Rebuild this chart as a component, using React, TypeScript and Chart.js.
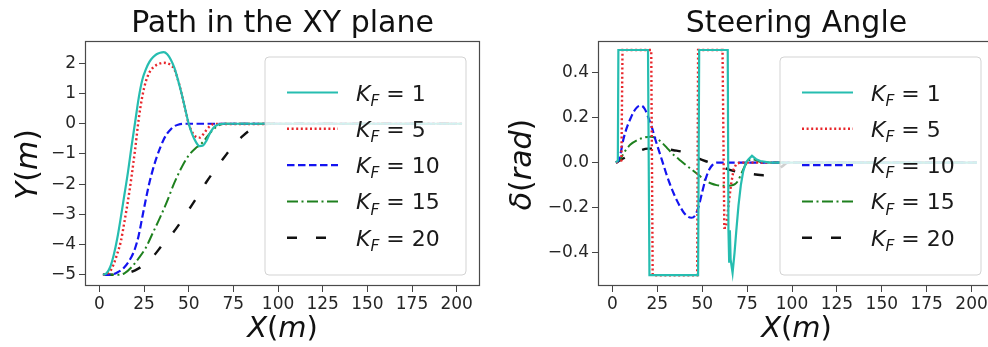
import React, { useEffect, useRef } from "react";
import { Chart, registerables } from "chart.js";
Chart.register(...registerables);

const FONT = '"DejaVu Sans", "Liberation Sans", sans-serif';

// ---------- ticks & labels ----------
const xTicks = [0, 25, 50, 75, 100, 125, 150, 175, 200];
const pathYTicks = [-5, -4, -3, -2, -1, 0, 1, 2];
const steerYTicks = [-0.4, -0.2, 0, 0.2, 0.4];
const kfValues = ["1", "5", "10", "15", "20"];
const titles = ["Path in the XY plane", "Steering Angle"];

// ---------- Path in the XY plane ----------
const pathX_K1 = [2, 4, 6, 8, 10, 12, 14, 16, 18, 20, 22, 24, 26, 28, 30, 32, 34, 36, 38, 40, 42, 44, 46, 48, 50, 52, 54, 56, 58, 60, 62, 64, 66, 68, 70, 203];
const pathY_K1 = [-5, -4.95, -4.75, -4.35, -3.8, -3.1, -2.35, -1.6, -0.75, 0.05, 0.85, 1.45, 1.8, 2.05, 2.2, 2.3, 2.35, 2.37, 2.3, 2.12, 1.85, 1.45, 1.0, 0.5, 0.0, -0.35, -0.6, -0.74, -0.72, -0.55, -0.3, -0.12, -0.04, -0.01, 0, 0];

const pathX_K5 = [2, 4, 6, 8, 10, 12, 14, 16, 18, 20, 22, 24, 26, 28, 30, 32, 34, 36, 38, 40, 42, 44, 46, 48, 50, 52, 54, 56, 58, 60, 62, 64, 203];
const pathY_K5 = [-5, -4.98, -4.88, -4.65, -4.3, -3.9, -3.25, -2.55, -1.75, -0.85, 0.15, 0.9, 1.4, 1.7, 1.86, 1.95, 2.0, 2.02, 2.0, 1.94, 1.8, 1.45, 1.0, 0.5, 0.0, -0.28, -0.43, -0.46, -0.36, -0.2, -0.07, -0.01, 0];

const pathX_K10 = [2, 6, 10, 14, 18, 20, 22, 24, 26, 28, 30, 32, 34, 36, 38, 40, 42, 44, 47, 203];
const pathY_K10 = [-5, -5, -4.92, -4.75, -4.4, -4.12, -3.7, -3.1, -2.5, -1.95, -1.5, -1.12, -0.8, -0.52, -0.32, -0.18, -0.08, -0.03, 0, 0];

const pathX_K15 = [2, 10, 14, 18, 22, 26, 30, 34, 38, 42, 46, 50, 54, 56, 58, 62, 66, 70, 203];
const pathY_K15 = [-5, -5, -4.95, -4.75, -4.45, -4.1, -3.6, -3.1, -2.55, -1.95, -1.45, -1.05, -0.8, -0.72, -0.6, -0.3, -0.08, 0, 0];

const pathX_K20 = [2, 10, 15, 20, 25, 30, 35, 40, 45, 50, 55, 60, 65, 70, 75, 80, 85, 90, 95, 203];
const pathY_K20 = [-5, -5, -4.95, -4.85, -4.67, -4.4, -4.03, -3.7, -3.3, -2.85, -2.4, -1.92, -1.5, -1.1, -0.72, -0.42, -0.18, -0.04, 0, 0];

// ---------- Steering angle ----------
const steerX_K1 = [2, 3, 3.3, 19.8, 20.6, 47.7, 48.3, 64.2, 64.6, 65.0, 65.4, 65.8, 66.9, 68, 69, 70.2, 71.5, 72.8, 74.3, 75.8, 77.7, 80, 82.3, 87.8, 203];
const steerY_K1 = [0, 0.01, 0.5, 0.5, -0.5, -0.5, 0.5, 0.5, -0.3, -0.44, -0.3, -0.43, -0.49, -0.4, -0.3, -0.19, -0.1, -0.04, 0, 0.015, 0.03, 0.015, 0.007, 0, 0];

const steerX_K5 = [2, 5, 5.6, 21.6, 22.4, 47.2, 47.7, 61.3, 62.3, 63.3, 64.5, 66, 67.5, 69, 71, 203];
const steerY_K5 = [0, 0.01, 0.5, 0.5, -0.5, -0.5, 0.5, 0.5, -0.29, -0.29, -0.2, -0.1, -0.03, -0.005, 0, 0];

const steerX_K10 = [2, 3, 4.5, 6, 8, 10, 12, 14, 16, 18, 20, 22, 24, 26, 28, 30, 32, 34, 36, 38, 40, 42, 44, 46, 48, 50, 52, 54, 56, 58, 203];
const steerY_K10 = [0, 0.005, 0.04, 0.1, 0.155, 0.195, 0.228, 0.248, 0.253, 0.238, 0.2, 0.155, 0.1, 0.05, 0.0, -0.05, -0.095, -0.135, -0.17, -0.2, -0.225, -0.24, -0.245, -0.235, -0.195, -0.13, -0.07, -0.03, -0.008, 0, 0];

const steerX_K15 = [2, 4, 6.5, 10, 14, 17, 21, 24, 28, 31, 34, 37, 40, 44, 48, 52, 55, 58, 62, 66, 68, 70, 72, 74, 76, 78, 80, 84, 203];
const steerY_K15 = [0, 0.01, 0.045, 0.08, 0.1, 0.11, 0.115, 0.11, 0.085, 0.06, 0.035, 0.015, -0.005, -0.03, -0.055, -0.08, -0.093, -0.1, -0.103, -0.102, -0.097, -0.08, -0.045, -0.012, 0.01, 0.015, 0.01, 0, 0];

const steerX_K20 = [2, 6, 12, 19.8, 28, 34, 40.4, 45, 52, 60, 64.4, 72, 78, 84, 88, 94, 98, 203];
const steerY_K20 = [0, 0.018, 0.04, 0.062, 0.062, 0.055, 0.045, 0.028, 0.006, -0.015, -0.03, -0.045, -0.051, -0.056, -0.05, -0.02, 0, 0];

// ---------- styles ----------
const STYLES = [
  { color: "#26bdb0", dash: [] as number[], width: 2.2 },
  { color: "#e8262b", dash: [2, 2.6], width: 2.4 },
  { color: "#1414f0", dash: [7.5, 3.5], width: 2.2 },
  { color: "#1e801e", dash: [11, 3.5, 2, 3.5], width: 2 },
  { color: "#111111", dash: [10, 19], width: 2.4 },
];

type Part = { t: string; it?: boolean; sub?: boolean };

function drawParts(ctx: CanvasRenderingContext2D, parts: Part[], x: number, y: number, size: number, align: "left" | "center") {
  const subSize = size * 0.7;
  const fontOf = (p: Part) => `${p.it ? "italic " : ""}${p.sub ? subSize : size}px ${FONT}`;
  let total = 0;
  const ws = parts.map((p) => {
    ctx.font = fontOf(p);
    const w = ctx.measureText(p.t).width;
    total += w;
    return w;
  });
  let cx = align === "center" ? x - total / 2 : x;
  ctx.textAlign = "left";
  ctx.textBaseline = "alphabetic";
  parts.forEach((p, i) => {
    ctx.font = fontOf(p);
    ctx.fillText(p.t, cx, p.sub ? y + size * 0.24 : y);
    cx += ws[i];
  });
}

function zip(xs: number[], ys: number[]) {
  return xs.map((x, i) => ({ x, y: ys[i] }));
}

type PanelOpts = {
  xs: number[][];
  ys: number[][];
  yMin: number;
  yMax: number;
  yTicks: number[];
  yFmt: (v: number) => string;
  yAxisWidth: number;
  padRight: number;
  title: string;
  yLabel: Part[];
  yLabelX: number;
  straight: boolean[];
};

function fmtMinus(s: string) {
  return s.replace("-", "\u2212");
}

function buildConfig(o: PanelOpts): any {
  const datasets = o.xs.map((xs, i) => ({
    label: "K" + kfValues[i],
    data: zip(xs, o.ys[i]),
    borderColor: STYLES[i].color,
    borderWidth: STYLES[i].width,
    borderDash: STYLES[i].dash,
    borderCapStyle: "butt",
    pointRadius: 0,
    fill: false,
    tension: 0,
    cubicInterpolationMode: o.straight[i] ? "default" : "monotone",
  }));

  const decor = {
    id: "decor",
    afterDatasetsDraw(chart: any) {
      const ctx: CanvasRenderingContext2D = chart.ctx;
      const a = chart.chartArea;
      ctx.save();
      // frame
      ctx.strokeStyle = "#4a4a4a";
      ctx.lineWidth = 1.2;
      ctx.setLineDash([]);
      ctx.strokeRect(a.left + 0.5, a.top + 0.5, a.right - a.left - 1, a.bottom - a.top - 1);

      // legend
      const bw = 201;
      const bx = a.right - 14 - bw;
      const by = a.top + 16;
      const bh = 218;
      ctx.beginPath();
      const r = 4;
      ctx.moveTo(bx + r, by);
      ctx.lineTo(bx + bw - r, by);
      ctx.quadraticCurveTo(bx + bw, by, bx + bw, by + r);
      ctx.lineTo(bx + bw, by + bh - r);
      ctx.quadraticCurveTo(bx + bw, by + bh, bx + bw - r, by + bh);
      ctx.lineTo(bx + r, by + bh);
      ctx.quadraticCurveTo(bx, by + bh, bx, by + bh - r);
      ctx.lineTo(bx, by + r);
      ctx.quadraticCurveTo(bx, by, bx + r, by);
      ctx.closePath();
      ctx.fillStyle = "rgba(255,255,255,0.8)";
      ctx.fill();
      ctx.strokeStyle = "rgba(200,200,200,0.8)";
      ctx.lineWidth = 1;
      ctx.stroke();

      kfValues.forEach((kv, i) => {
        const cy = by + 35.5 + i * 36.3;
        const st = STYLES[i];
        ctx.beginPath();
        ctx.setLineDash(st.dash);
        ctx.lineDashOffset = 0;
        ctx.strokeStyle = st.color;
        ctx.lineWidth = st.width;
        ctx.lineCap = "butt";
        ctx.moveTo(bx + 22, cy);
        ctx.lineTo(bx + 73, cy);
        ctx.stroke();
        ctx.setLineDash([]);
        ctx.fillStyle = "#1a1a1a";
        drawParts(
          ctx,
          [
            { t: "K", it: true },
            { t: "F", it: true, sub: true },
            { t: " = " },
            { t: kv },
          ],
          bx + 91,
          cy + 8,
          22,
          "left"
        );
      });
      ctx.restore();
    },
    afterDraw(chart: any) {
      const ctx: CanvasRenderingContext2D = chart.ctx;
      const a = chart.chartArea;
      const cx = (a.left + a.right) / 2;
      ctx.save();
      ctx.fillStyle = "#111";
      ctx.font = `30px ${FONT}`;
      ctx.textAlign = "center";
      ctx.textBaseline = "alphabetic";
      ctx.fillText(o.title, cx, 32);
      // x label
      drawParts(
        ctx,
        [{ t: "X", it: true }, { t: "(" }, { t: "m", it: true }, { t: ")" }],
        cx,
        337,
        29,
        "center"
      );
      // y label
      ctx.translate(o.yLabelX, (a.top + a.bottom) / 2 + 1);
      ctx.rotate(-Math.PI / 2);
      drawParts(ctx, o.yLabel, 0, 0, 30, "center");
      ctx.restore();
    },
  };

  const tickFont = { family: FONT, size: 17 };
  return {
    type: "line",
    data: { datasets },
    options: {
      animation: false,
      responsive: false,
      devicePixelRatio: 1,
      events: [],
      layout: { padding: { top: 41, right: o.padRight, left: 0, bottom: 0 } },
      plugins: {
        legend: { display: false },
        title: { display: false },
        tooltip: { enabled: false },
      },
      scales: {
        x: {
          type: "linear",
          min: -8.05,
          max: 213.05,
          grid: { display: true, drawOnChartArea: false, drawTicks: true, tickLength: 6, color: "#444", lineWidth: 1 },
          border: { display: false },
          ticks: {
            font: tickFont,
            color: "#262626",
            padding: 2,
            maxRotation: 0,
            autoSkip: false,
            callback: (v: number) => String(v),
          },
          afterBuildTicks: (axis: any) => {
            axis.ticks = xTicks.map((v) => ({ value: v }));
          },
          afterFit: (axis: any) => {
            axis.height = 61;
          },
        },
        y: {
          type: "linear",
          min: o.yMin,
          max: o.yMax,
          grid: { display: true, drawOnChartArea: false, drawTicks: true, tickLength: 6, color: "#444", lineWidth: 1 },
          border: { display: false },
          ticks: {
            font: tickFont,
            color: "#262626",
            padding: 3,
            autoSkip: false,
            callback: (v: number) => o.yFmt(v),
          },
          afterBuildTicks: (axis: any) => {
            axis.ticks = o.yTicks.map((v) => ({ value: v }));
          },
          afterFit: (axis: any) => {
            axis.width = o.yAxisWidth;
          },
        },
      },
    },
    plugins: [decor],
  };
}

function Panel(props: { opts: PanelOpts; left: number; width: number }) {
  const ref = useRef<HTMLCanvasElement | null>(null);
  useEffect(() => {
    if (!ref.current) return;
    const chart = new Chart(ref.current, buildConfig(props.opts));
    return () => chart.destroy();
  }, []);
  return (
    <canvas
      ref={ref}
      width={props.width}
      height={347}
      style={{ position: "absolute", left: props.left, top: 0, width: props.width, height: 347 }}
    />
  );
}

const pathOpts: PanelOpts = {
  xs: [pathX_K1, pathX_K5, pathX_K10, pathX_K15, pathX_K20],
  ys: [pathY_K1, pathY_K5, pathY_K10, pathY_K15, pathY_K20],
  yMin: -5.37,
  yMax: 2.74,
  yTicks: pathYTicks,
  yFmt: (v) => fmtMinus(String(v)),
  yAxisWidth: 85,
  padRight: 14,
  title: titles[0],
  yLabel: [{ t: "Y", it: true }, { t: "(" }, { t: "m", it: true }, { t: ")" }],
  yLabelX: 37,
  straight: [false, false, false, false, false],
};

const steerOpts: PanelOpts = {
  xs: [steerX_K1, steerX_K5, steerX_K10, steerX_K15, steerX_K20],
  ys: [steerY_K1, steerY_K5, steerY_K10, steerY_K15, steerY_K20],
  yMin: -0.548,
  yMax: 0.54,
  yTicks: steerYTicks,
  yFmt: (v) => fmtMinus((Math.abs(v) < 1e-9 ? 0 : v).toFixed(1)),
  yAxisWidth: 104,
  padRight: 7,
  title: titles[1],
  yLabel: [{ t: "\u03b4", it: true }, { t: "(" }, { t: "rad", it: true }, { t: ")" }],
  yLabelX: 37,
  straight: [true, true, false, false, false],
};

export default function App() {
  return (
    <div
      style={{
        position: "absolute",
        left: 0,
        top: 0,
        width: 988,
        height: 347,
        overflow: "hidden",
        background: "#ffffff",
      }}
    >
      <Panel opts={pathOpts} left={0} width={494} />
      <Panel opts={steerOpts} left={494} width={508} />
    </div>
  );
}
